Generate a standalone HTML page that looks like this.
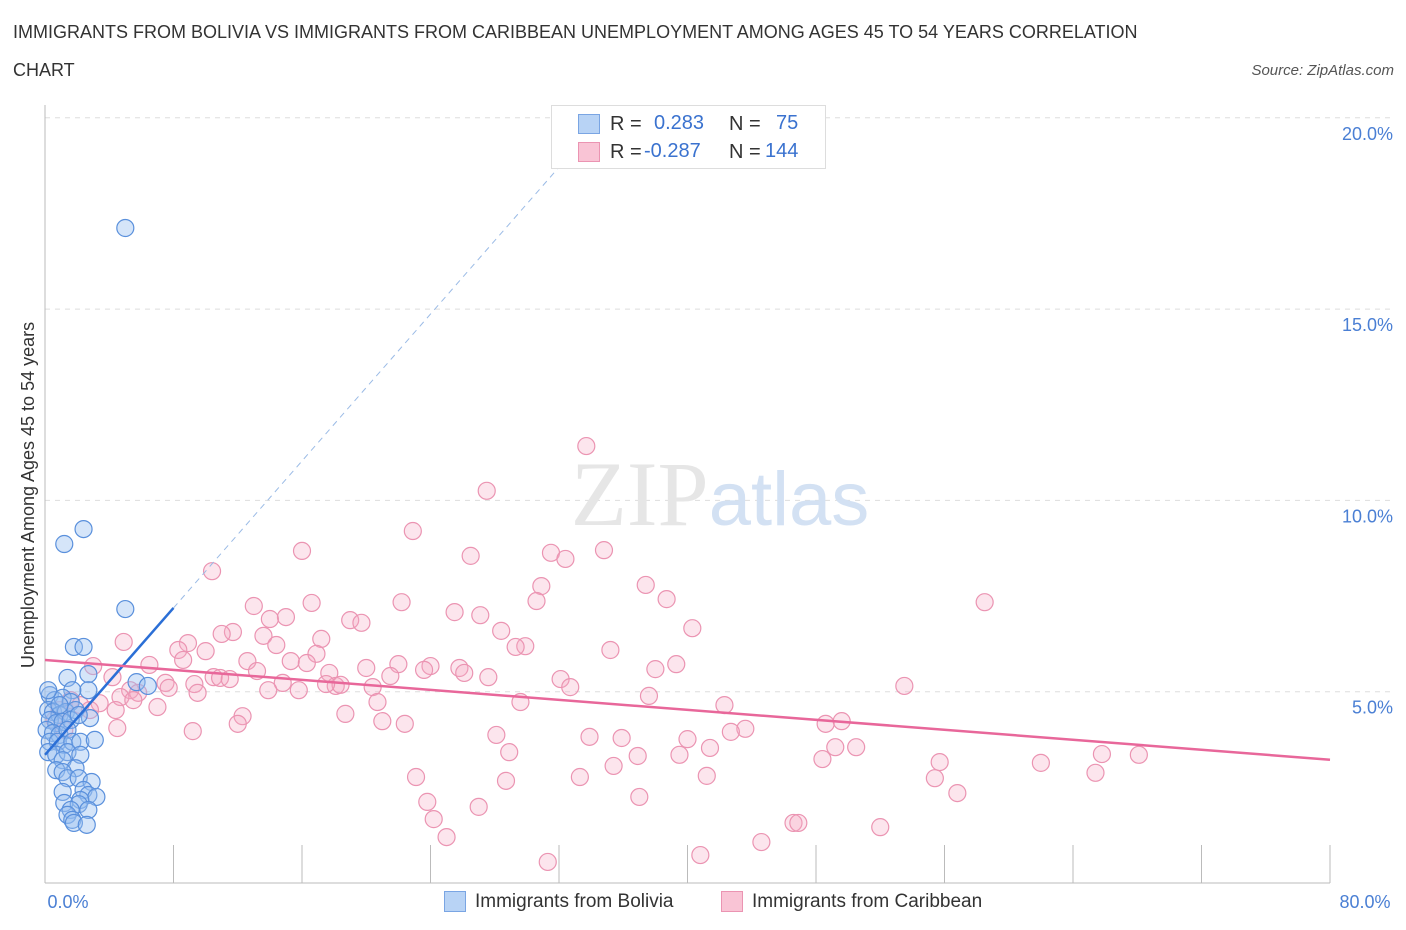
<!DOCTYPE html>
<html><head><meta charset="utf-8">
<style>
body{margin:0;background:#fff;font-family:"Liberation Sans",sans-serif;}
#wrap{position:relative;width:1406px;height:930px;overflow:hidden;}
.t{position:absolute;white-space:nowrap;}
</style></head><body>
<div id="wrap">
<div class="t" style="left:13px;top:22px;font-size:18px;color:#333;">IMMIGRANTS FROM BOLIVIA VS IMMIGRANTS FROM CARIBBEAN UNEMPLOYMENT AMONG AGES 45 TO 54 YEARS CORRELATION</div>
<div class="t" style="left:13px;top:60px;font-size:18px;color:#333;">CHART</div>
<div class="t" style="right:12px;top:62px;font-size:15px;color:#555;font-style:italic;">Source: ZipAtlas.com</div>
<svg id="svg" width="1406" height="930" style="position:absolute;left:0;top:0"></svg>
</div>
<script>
const xTicks=[0,8,16,24,32,40,48,56,64,72,80];
const yGrid=[5,10,15,20];
const yTickLabels=["5.0%","10.0%","15.0%","20.0%"];
const xTickLabels=["0.0%","80.0%"];
const blueX=[5.0,2.4,1.2,5.0,1.8,2.4,1.4,2.7,5.7,6.4,2.7,1.7,0.3,0.6,1.1,1.6,0.2,0.5,0.9,1.3,1.9,0.3,0.7,1.1,1.6,0.1,0.5,0.9,1.4,0.3,0.8,1.2,1.7,2.2,3.1,0.2,0.7,1.4,2.2,1.1,1.9,0.7,1.1,1.4,2.1,2.9,1.1,2.4,2.7,3.2,2.2,1.2,2.1,1.6,1.4,2.7,1.7,1.8,2.6,0.9,2.8,2.1,0.2];
const blueY=[17.12,9.25,8.86,7.16,6.17,6.17,5.36,5.46,5.25,5.15,5.04,5.04,4.91,4.78,4.84,4.73,4.52,4.47,4.39,4.47,4.52,4.26,4.18,4.21,4.26,4.0,3.92,3.87,4.0,3.69,3.69,3.61,3.69,3.69,3.74,3.42,3.35,3.42,3.35,3.21,3.0,2.95,2.90,2.74,2.74,2.64,2.38,2.43,2.30,2.25,2.17,2.09,2.06,1.91,1.78,1.91,1.65,1.57,1.52,4.65,4.31,4.39,5.04];
const pinkX=[33.7,27.5,22.9,16.0,26.5,31.5,32.4,34.8,10.4,30.9,37.4,58.5,30.6,38.7,22.2,16.6,13.0,25.5,27.1,15.0,14.0,19.0,19.7,40.3,11.7,28.4,11.0,4.9,17.2,13.6,8.9,14.4,29.9,29.3,8.3,35.2,10.0,16.9,15.3,16.3,12.6,3.0,6.5,8.6,39.3,38.0,22.0,24.0,20.0,23.6,25.8,26.1,13.2,17.7,10.5,10.9,11.5,27.6,32.1,21.5,4.2,7.5,9.3,18.1,18.4,17.5,20.4,15.8,5.3,5.8,32.7,14.8,7.7,13.9,53.5,4.7,9.5,37.6,5.5,20.7,29.6,42.3,7.0,4.4,18.7,12.3,12.0,21.0,22.4,48.6,49.6,4.5,9.2,43.6,42.7,28.1,33.9,35.9,40.0,49.2,50.5,28.9,41.4,36.9,39.5,48.4,65.8,68.1,55.7,62.0,35.4,23.1,33.3,41.2,55.4,65.4,28.7,56.8,37.0,23.8,27.0,24.2,25.0,46.6,46.9,52.0,44.6,31.3,40.8,0.9,1.6,0.6,2.2,3.4,2.8,1.2];
const pinkY=[11.42,10.25,9.2,8.68,8.55,8.63,8.47,8.70,8.15,7.76,7.79,7.34,7.37,7.42,7.34,7.32,7.24,7.08,7.0,6.95,6.90,6.87,6.80,6.66,6.56,6.59,6.51,6.30,6.38,6.46,6.27,6.22,6.19,6.17,6.09,6.09,6.06,5.99,5.80,5.75,5.80,5.67,5.70,5.83,5.72,5.59,5.72,5.67,5.62,5.57,5.62,5.49,5.54,5.49,5.38,5.36,5.33,5.38,5.33,5.41,5.38,5.23,5.20,5.15,5.18,5.20,5.12,5.04,5.04,4.97,5.12,5.23,5.10,5.04,5.15,4.86,4.97,4.89,4.78,4.73,4.73,4.65,4.60,4.52,4.42,4.36,4.16,4.23,4.16,4.16,4.23,4.05,3.97,4.03,3.95,3.87,3.82,3.79,3.76,3.55,3.55,3.42,3.53,3.32,3.35,3.24,3.37,3.35,3.16,3.14,3.06,2.77,2.77,2.80,2.74,2.88,2.67,2.35,2.25,2.12,1.99,1.67,1.20,1.57,1.57,1.46,1.07,0.55,0.73,4.52,4.78,4.26,4.65,4.70,4.52,4.0];
const blueFit=[3.35,0.48]; // intercept, slope
const pinkFit=[5.83,-0.0326];

const X0=45,X1=1330,Y0=883,YS=38.26;
const sx=v=>X0+(X1-X0)*v/80;
const sy=v=>Y0-v*YS;
const svg=document.getElementById('svg');
const NS='http://www.w3.org/2000/svg';
function mk(tag,attrs){const e=document.createElementNS(NS,tag);for(const k in attrs)e.setAttribute(k,attrs[k]);svg.appendChild(e);return e;}

yGrid.forEach((v,i)=>{
  const g=mk('line',{x1:X0,x2:1395,y1:sy(v),y2:sy(v),stroke:'#ddd','stroke-dasharray':'5,5'});
  
  
  const t=mk('text',{x:1393,y:sy(v)+22,'text-anchor':'end','font-size':18,fill:'#4a7fd4','font-family':'Liberation Sans'});
  t.textContent=yTickLabels[i];
  
  
});
const ax=mk('line',{x1:X0,x2:X0,y1:105,y2:Y0,stroke:'#bbb'});


const bx=mk('line',{x1:X0,x2:X1,y1:Y0,y2:Y0,stroke:'#bbb'});


xTicks.forEach(v=>{
  const l=mk('line',{x1:sx(v),x2:sx(v),y1:845,y2:Y0,stroke:'#bbb'});
  
  
});
[[xTickLabels[0],68,'middle'],[xTickLabels[1],1365,'middle']].forEach(a=>{
  const t=mk('text',{x:a[1],y:908,'text-anchor':a[2],'font-size':18,fill:'#4a7fd4','font-family':'Liberation Sans'});
  t.textContent=a[0];
  
  
});
const yt=mk('text',{x:34,y:495,'text-anchor':'middle','font-size':18,fill:'#333','font-family':'Liberation Sans',transform:'rotate(-90 34 495)'});
yt.textContent='Unemployment Among Ages 45 to 54 years';


const wm=mk('text',{x:720,y:525,'text-anchor':'middle','font-size':92,fill:'#e6e6e6','font-family':'Liberation Serif'});
wm.innerHTML='ZIP<tspan fill="#d3e1f3" font-family="Liberation Sans" font-size="76">atlas</tspan>';



pinkX.forEach((x,i)=>{
  const c=mk('circle',{cx:sx(x),cy:sy(pinkY[i]),r:8.5,fill:'rgba(245,170,195,0.3)',stroke:'#eb94b2','stroke-width':1.2});
  
  
});
blueX.forEach((x,i)=>{
  const c=mk('circle',{cx:sx(x),cy:sy(blueY[i]),r:8.5,fill:'rgba(150,190,240,0.4)',stroke:'#5a90dc','stroke-width':1.2});
  
  
});
const bf=v=>blueFit[0]+blueFit[1]*v;
const pf=v=>pinkFit[0]+pinkFit[1]*v;
const bd=mk('line',{x1:sx(8),y1:sy(bf(8)),x2:sx(32.7),y2:sy(bf(32.7)),stroke:'#9bbbe6','stroke-width':1,'stroke-dasharray':'6,5'});


const bl=mk('line',{x1:sx(0),y1:sy(bf(0)),x2:sx(8),y2:sy(bf(8)),stroke:'#2b6fd6','stroke-width':2.5});


const pl=mk('line',{x1:sx(0),y1:sy(pf(0)),x2:sx(80),y2:sy(pf(80)),stroke:'#e8679a','stroke-width':2.5});


</script>
<div class="t" style="left:551px;top:105px;width:273px;height:62px;border:1px solid #ddd;background:#fff;font-size:20px;">
 <div class="t" style="left:26px;top:8px;width:20px;height:18px;background:#b8d3f5;border:1px solid #7aa5e3;"></div>
 <div class="t" style="left:58px;top:7px;color:#333;">R =</div>
 <div class="t" style="left:102px;top:6px;color:#3a72cf;">0.283</div>
 <div class="t" style="left:177px;top:7px;color:#333;">N =</div>
 <div class="t" style="left:224px;top:6px;color:#3a72cf;">75</div>
 <div class="t" style="left:26px;top:36px;width:20px;height:18px;background:#f9c4d5;border:1px solid #eb94b2;"></div>
 <div class="t" style="left:58px;top:35px;color:#333;">R =</div>
 <div class="t" style="left:92px;top:34px;color:#3a72cf;">-0.287</div>
 <div class="t" style="left:177px;top:35px;color:#333;">N =</div>
 <div class="t" style="left:213px;top:34px;color:#3a72cf;">144</div>
</div>
<div class="t" style="left:444px;top:891px;width:20px;height:19px;background:#b8d3f5;border:1px solid #7aa5e3;"></div>
<div class="t" style="left:475px;top:891px;font-size:19px;color:#333;">Immigrants from Bolivia</div>
<div class="t" style="left:721px;top:891px;width:20px;height:19px;background:#f9c4d5;border:1px solid #eb94b2;"></div>
<div class="t" style="left:752px;top:891px;font-size:19px;color:#333;">Immigrants from Caribbean</div>
</body></html>
